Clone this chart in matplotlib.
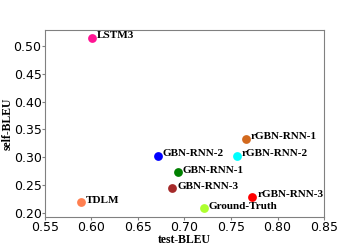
import matplotlib
matplotlib.use("Agg")
import matplotlib.pyplot as plt

# data
names = ['LSTM3', 'TDLM', 'GBN-RNN-2', 'GBN-RNN-1', 'GBN-RNN-3',
         'rGBN-RNN-1', 'rGBN-RNN-2', 'rGBN-RNN-3', 'Ground-Truth']
test_bleu = [0.601, 0.589, 0.6715, 0.693, 0.687, 0.766, 0.756, 0.773, 0.721]
self_bleu = [0.514, 0.220, 0.3025, 0.2735, 0.245, 0.333, 0.3025, 0.2296, 0.2095]
colors = ['#ff1493', '#ff7f50', '#0000ff', '#008000', '#a52a2a',
          '#d2691e', '#00ffff', '#ff0000', '#adff2f']

fig = plt.figure(figsize=(3.6, 2.45), dpi=100)
ax = fig.add_axes([0.125, 0.113, 0.775, 0.765])

for x, y, c, n in zip(test_bleu, self_bleu, colors, names):
    ax.scatter(x, y, s=40, color=c, zorder=3, linewidths=0)
    ax.annotate(n, (x, y), xytext=(3.5, 1.5), textcoords='offset points',
                fontsize=8, fontweight='bold', family='Liberation Serif',
                va='center', ha='left')

ax.set_xlim(0.55, 0.85)
ax.set_ylim(0.193, 0.528)
ax.set_xticks([0.55, 0.60, 0.65, 0.70, 0.75, 0.80, 0.85])
ax.set_yticks([0.20, 0.25, 0.30, 0.35, 0.40, 0.45, 0.50])
ax.xaxis.set_major_formatter(matplotlib.ticker.FormatStrFormatter('%.2f'))
ax.yaxis.set_major_formatter(matplotlib.ticker.FormatStrFormatter('%.2f'))
ax.tick_params(axis='both', labelsize=9, length=2, color='gray', pad=0.5)
for s in ax.spines.values():
    s.set_color('gray')
ax.set_xlabel('test-BLEU', fontsize=8.5, fontweight='bold', family='Liberation Serif', labelpad=0)
ax.set_ylabel('self-BLEU', fontsize=8.5, fontweight='bold', family='Liberation Serif', labelpad=0)

fig.savefig('out.png', dpi=100)
